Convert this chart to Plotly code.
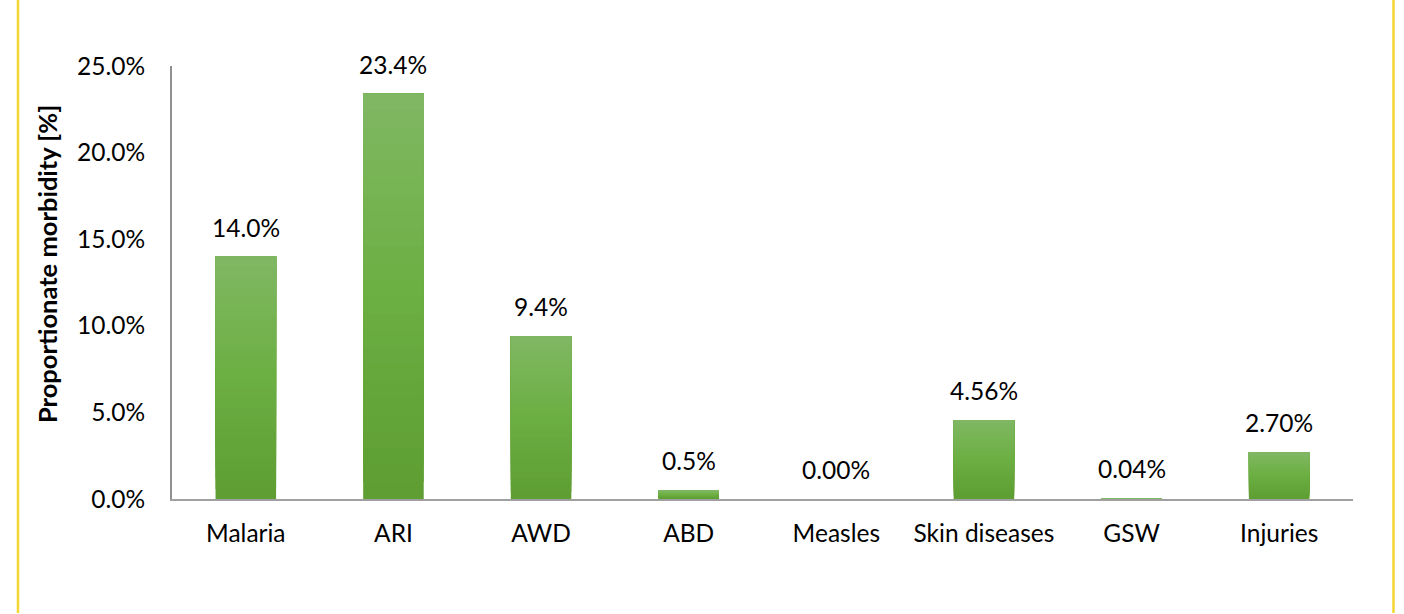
import plotly.graph_objects as go

categories = ["Malaria", "ARI", "AWD", "ABD", "Measles", "Skin diseases", "GSW", "Injuries"]
values = [14.0, 23.4, 9.4, 0.5, 0.0, 4.56, 0.04, 2.70]
labels = ["14.0%", "23.4%", "9.4%", "0.5%", "0.00%", "4.56%", "0.04%", "2.70%"]
y_ticks = [0, 5, 10, 15, 20, 25]
y_tick_labels = ["0.0%", "5.0%", "10.0%", "15.0%", "20.0%", "25.0%"]

FONT = "Lato"
FS = 24.5
W, H = 1404, 614
ML, MR, MT, MB = 172, 51, 66, 115

def lerp(c1, c2, t):
    return "#%02x%02x%02x" % tuple(round(a + (b - a) * t) for a, b in zip(c1, c2))

bottom_c = (0x5E, 0x9E, 0x33)
mid_c = (0x6C, 0xAF, 0x43)
top_c = (0x82, 0xB8, 0x65)

fig = go.Figure()
N = 24
for i in range(N):
    f = i / N
    if f < 0.5:
        col = lerp(bottom_c, mid_c, f / 0.5)
    else:
        col = lerp(mid_c, top_c, (f - 0.5) / 0.5)
    fig.add_trace(go.Bar(
        x=categories,
        y=[v * (1 - f) for v in values],
        base=[v * f for v in values],
        marker=dict(color=col, line=dict(width=0)),
        width=0.41,
        hoverinfo="skip",
        showlegend=False,
    ))

for c, v, t in zip(categories, values, labels):
    fig.add_annotation(x=c, y=v, text=t, showarrow=False, yanchor="bottom",
                       yshift=13, font=dict(family=FONT, size=FS, color="#000000"))

pw = W - ML - MR
ph = H - MT - MB
def px_x(p):
    return (p - ML) / pw
def px_y(p):
    return (H - MB - p) / ph

fig.add_annotation(x=px_x(47), y=px_y(264), xref="paper", yref="paper",
                   xanchor="center", yanchor="middle",
                   text="<b>Proportionate morbidity [%]</b>", textangle=-90,
                   showarrow=False, font=dict(family=FONT, size=25.5, color="#000000"))

border = "#F5D531"
for xp in (18, 1393.5):
    fig.add_shape(type="line", xref="paper", yref="paper",
                  x0=px_x(xp), x1=px_x(xp), y0=px_y(-5), y1=px_y(613),
                  line=dict(color=border, width=2.5))

fig.update_layout(
    width=W, height=H,
    margin=dict(l=ML, r=MR, t=MT, b=MB),
    paper_bgcolor="white", plot_bgcolor="white",
    barmode="overlay",
    bargap=0.59,
    font=dict(family=FONT, size=FS, color="#000000"),
    xaxis=dict(showline=True, linecolor="#A0A0A0", linewidth=2, ticks="",
               showgrid=False, tickfont=dict(family=FONT, size=FS), ticklabelstandoff=12),
    yaxis=dict(range=[0, 25], tickvals=y_ticks, ticktext=y_tick_labels,
               showline=True, linecolor="#909090", linewidth=2, ticks="",
               showgrid=False, zeroline=False, tickfont=dict(family=FONT, size=FS),
               ticklabelstandoff=20),
)

fig.write_html("out.html")
